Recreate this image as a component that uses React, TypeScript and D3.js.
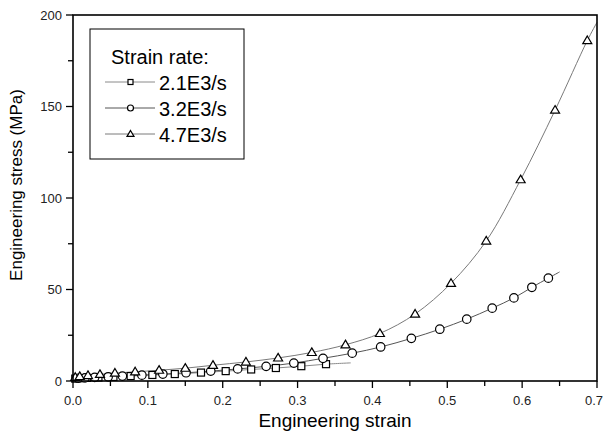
import React from "react";
import * as d3 from "d3";

// Strain-rate series: engineering strain vs engineering stress (MPa)
const strain21 = [0.003, 0.009, 0.019, 0.034, 0.054, 0.077, 0.106, 0.136, 0.171, 0.204, 0.238, 0.271, 0.305, 0.338];
const stress21 = [1.3, 1.5, 1.7, 1.9, 2.2, 2.7, 3.3, 3.8, 4.6, 5.4, 6.3, 7.1, 8.1, 9.2];
const fitEnd21 = [0.371, 9.9];

const strain32 = [0.007, 0.016, 0.029, 0.047, 0.066, 0.092, 0.12, 0.151, 0.184, 0.22, 0.258, 0.295, 0.334, 0.373, 0.411, 0.452, 0.49, 0.526, 0.56, 0.589, 0.613, 0.635];
const stress32 = [1.5, 1.7, 2.0, 2.3, 2.7, 3.2, 3.8, 4.5, 5.4, 6.6, 8.0, 9.8, 12.4, 15.2, 18.6, 23.3, 28.3, 33.8, 39.8, 45.4, 51.2, 56.2];
const fitEnd32 = [0.65, 59.6];

const strain47 = [0.003, 0.009, 0.02, 0.036, 0.056, 0.083, 0.115, 0.15, 0.187, 0.231, 0.274, 0.319, 0.364, 0.41, 0.457, 0.505, 0.552, 0.598, 0.644, 0.687];
const stress47 = [2.0, 2.5, 3.0, 3.6, 4.3, 5.0, 5.9, 7.0, 8.6, 10.4, 12.6, 15.6, 19.8, 26.0, 36.6, 53.4, 76.5, 110, 148, 186];
const fitEnd47 = [0.7, 196];

const seriesNames = ["2.1E3/s", "3.2E3/s", "4.7E3/s"];
const xTickValues = [0, 0.05, 0.1, 0.15, 0.2, 0.25, 0.3, 0.35, 0.4, 0.45, 0.5, 0.55, 0.6, 0.65, 0.7];
const xTickLabels = ["0.0", "", "0.1", "", "0.2", "", "0.3", "", "0.4", "", "0.5", "", "0.6", "", "0.7"];
const yTickValues = [0, 25, 50, 75, 100, 125, 150, 175, 200];
const yTickLabels = ["0", "", "50", "", "100", "", "150", "", "200"];

const FONT = "'Liberation Sans', Arial, Helvetica, sans-serif";

type Shape = "square" | "circle" | "triangle";

function Marker({ cx, cy, shape, s }: { cx: number; cy: number; shape: Shape; s: number }) {
  const common = { fill: "#fff", stroke: "#000", strokeWidth: 1.2 };
  if (shape === "square") return <rect x={cx - s / 2} y={cy - s / 2} width={s} height={s} {...common} />;
  if (shape === "circle") return <circle cx={cx} cy={cy} r={s / 2} {...common} />;
  const h = s * 0.85;
  return <path d={`M${cx},${cy - h * 0.6}L${cx + s / 2},${cy + h * 0.4}L${cx - s / 2},${cy + h * 0.4}Z`} {...common} />;
}

export default function App() {
  const W = 604;
  const H = 440;
  const plot = { left: 73, right: 597, top: 15, bottom: 381 };

  const x = d3.scaleLinear().domain([0, 0.7]).range([plot.left, plot.right]);
  const y = d3.scaleLinear().domain([0, 200]).range([plot.bottom, plot.top]);

  const series = [
    { xs: strain21, ys: stress21, end: fitEnd21, shape: "square" as Shape, lineColor: "#8a8a8a", size: 7 },
    { xs: strain32, ys: stress32, end: fitEnd32, shape: "circle" as Shape, lineColor: "#555", size: 8.5 },
    { xs: strain47, ys: stress47, end: fitEnd47, shape: "triangle" as Shape, lineColor: "#7a7a7a", size: 9 },
  ];

  const line = d3
    .line<[number, number]>()
    .x((d) => x(d[0]))
    .y((d) => y(d[1]))
    .curve(d3.curveCatmullRom.alpha(0.5));

  const legendMarkerSize = [5, 6, 7];

  return (
    <svg
      width={W}
      height={H}
      style={{ position: "absolute", left: 0, top: 0, background: "#fff" }}
      fontFamily={FONT}
    >
      <rect width={W} height={H} fill="#fff" />

      {/* fitted curves */}
      {series.map((s, i) => {
        const pts: [number, number][] = s.xs.map((v, j) => [v, s.ys[j]] as [number, number]);
        pts.push([s.end[0], s.end[1]]);
        return <path key={`l${i}`} d={line(pts) ?? ""} fill="none" stroke={s.lineColor} strokeWidth={1} />;
      })}

      {/* measured points */}
      {series.map((s, i) => (
        <g key={`m${i}`}>
          {s.xs.map((v, j) => (
            <Marker key={j} cx={x(v)} cy={y(s.ys[j])} shape={s.shape} s={s.size} />
          ))}
        </g>
      ))}

      {/* frame */}
      <rect
        x={plot.left}
        y={plot.top}
        width={plot.right - plot.left}
        height={plot.bottom - plot.top}
        fill="none"
        stroke="#000"
        strokeWidth={1.6}
      />

      {/* x axis ticks */}
      {xTickValues.map((v, i) => {
        const major = xTickLabels[i] !== "";
        return (
          <g key={`xt${i}`}>
            <line x1={x(v)} x2={x(v)} y1={plot.bottom} y2={plot.bottom + (major ? 7 : 5)} stroke="#000" strokeWidth={1.3} />
            {major && (
              <text x={Math.min(x(v), W - 10)} y={plot.bottom + 24} textAnchor="middle" fontSize={13} fill="#222">
                {xTickLabels[i]}
              </text>
            )}
          </g>
        );
      })}

      {/* y axis ticks */}
      {yTickValues.map((v, i) => {
        const major = yTickLabels[i] !== "";
        return (
          <g key={`yt${i}`}>
            <line x1={plot.left} x2={plot.left - (major ? 7 : 5)} y1={y(v)} y2={y(v)} stroke="#000" strokeWidth={1.3} />
            {major && (
              <text x={plot.left - 11} y={y(v) + 4.5} textAnchor="end" fontSize={13} fill="#222">
                {yTickLabels[i]}
              </text>
            )}
          </g>
        );
      })}

      {/* axis titles */}
      <text x={(plot.left + plot.right) / 2} y={427} textAnchor="middle" fontSize={19}>
        Engineering strain
      </text>
      <text transform={`translate(22,185) rotate(-90)`} textAnchor="middle" fontSize={17}>
        Engineering stress (MPa)
      </text>

      {/* legend */}
      <g>
        <rect x={90} y={29} width={154} height={130} fill="#fff" stroke="#000" strokeWidth={1} />
        <text x={111} y={64} fontSize={20}>
          Strain rate:
        </text>
        {series.map((s, i) => {
          const cy = 82 + i * 26;
          return (
            <g key={`lg${i}`}>
              <line x1={105} x2={155} y1={cy} y2={cy} stroke={s.lineColor} strokeWidth={1} />
              <Marker cx={130.5} cy={cy} shape={s.shape} s={legendMarkerSize[i]} />
              <text x={159} y={cy + 8} fontSize={20}>
                {seriesNames[i]}
              </text>
            </g>
          );
        })}
      </g>
    </svg>
  );
}
